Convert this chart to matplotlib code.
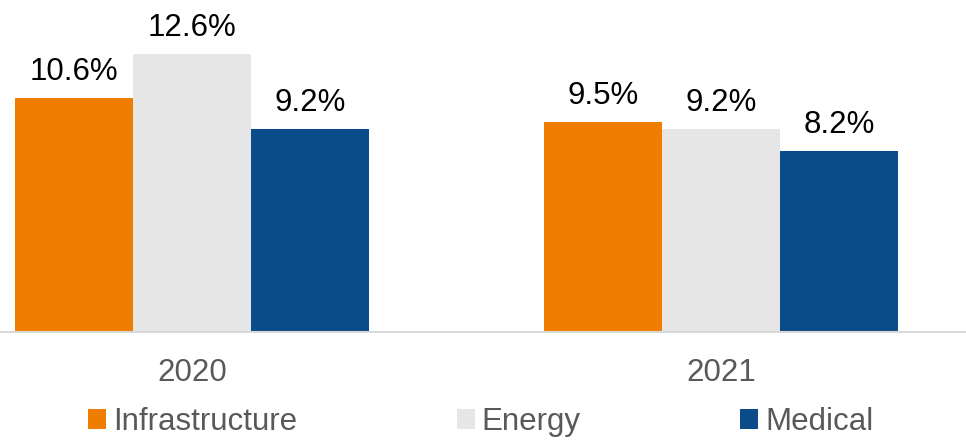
import numpy as np
import matplotlib
matplotlib.use("Agg")
import matplotlib.pyplot as plt

plt.rcParams['font.family'] = ['Liberation Sans', 'DejaVu Sans']

years = ["2020", "2021"]
series = ["Infrastructure", "Energy", "Medical"]
infrastructure = [10.6, 9.5]
energy = [12.6, 9.2]
medical = [9.2, 8.2]

colors = ["#F07D00", "#E6E6E6", "#0A4C89"]
grey_text = "#595959"

fig = plt.figure(figsize=(9.66, 4.40), dpi=100)
ax = fig.add_axes([0, 0.2455, 1, 0.7545])

x = np.arange(len(years))
w = 0.223
for i, (name, vals) in enumerate(zip(series, [infrastructure, energy, medical])):
    bars = ax.bar(x + (i - 1) * w, vals, width=w, color=colors[i], label=name,
                  edgecolor="none")
    ax.bar_label(bars, labels=[f"{v:.1f}%" for v in vals], padding=8,
                 fontsize=22.5, color="black")

ax.set_xlim(-0.363, 1.463)
ax.set_ylim(0, 15.05)
ax.set_xticks(x)
ax.set_xticklabels(years, fontsize=22.5, color=grey_text)
ax.tick_params(axis="x", length=0, pad=19)
ax.set_yticks([])
for s in ["top", "left", "right"]:
    ax.spines[s].set_visible(False)
ax.spines["bottom"].set_color("#D9D9D9")
ax.spines["bottom"].set_linewidth(1.5)

leg = fig.legend(loc="center left", bbox_to_anchor=(88 / 966, 1 - 422 / 440),
                 ncol=3, frameon=False, fontsize=22.5, handlelength=0.58,
                 handleheight=0.58, handletextpad=0.22, columnspacing=5.1,
                 borderpad=0, borderaxespad=0)
for t in leg.get_texts():
    t.set_color(grey_text)

fig.savefig("out.png", dpi=100)
